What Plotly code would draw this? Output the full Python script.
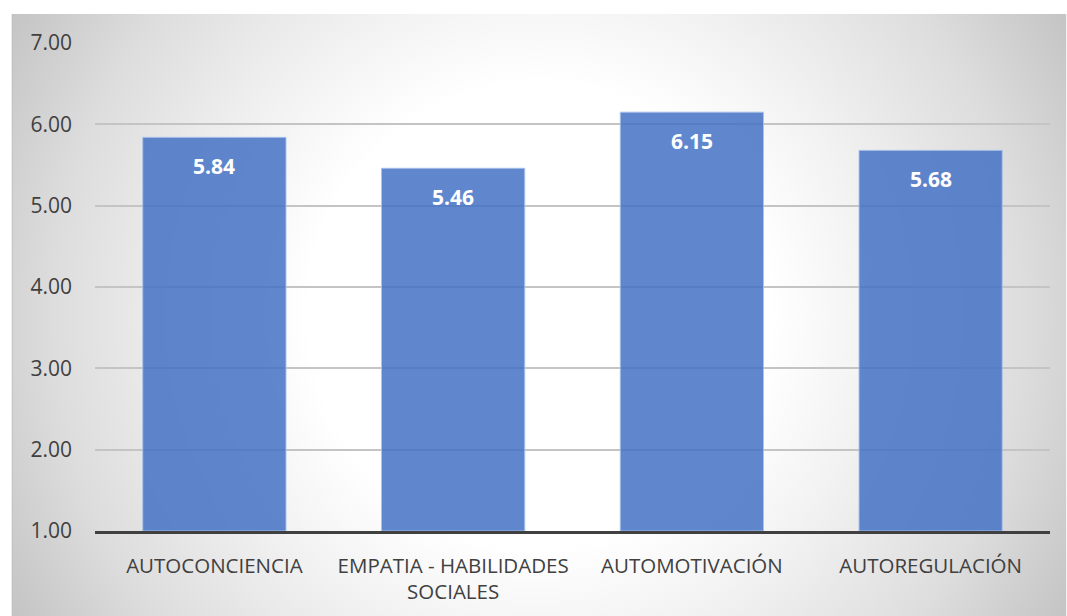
import base64
import plotly.graph_objects as go

# Data
categories = ["AUTOCONCIENCIA", "EMPATIA - HABILIDADES<br>SOCIALES", "AUTOMOTIVACIÓN", "AUTOREGULACIÓN"]
values = [5.84, 5.46, 6.15, 5.68]
tick_vals = [1, 2, 3, 4, 5, 6, 7]
tick_text = ["1.00", "2.00", "3.00", "4.00", "5.00", "6.00", "7.00"]

W, H = 1067, 616
L, R, T, B = 94.5, 16.5, 43, 85
pw, ph = W - L - R, H - T - B

# Radial gradient backdrop for the chart area (x 11..1067, y 14..616 in px)
bx0, by0, bx1, by1 = 11, 14, 1067, 616
bw, bh = bx1 - bx0, by1 - by0
svg = (
    f'<svg xmlns="http://www.w3.org/2000/svg" width="{bw}" height="{bh}" viewBox="0 0 {bw} {bh}" preserveAspectRatio="none">'
    '<defs><radialGradient id="g" gradientUnits="userSpaceOnUse" '
    f'cx="{bw/2}" cy="{bh/2}" r="{((bw/2)**2 + (bh/2)**2) ** 0.5:.1f}">'
    '<stop offset="0" stop-color="#ffffff"/>'
    '<stop offset="0.38" stop-color="#ffffff"/>'
    '<stop offset="0.55" stop-color="#f2f2f2"/>'
    '<stop offset="0.8" stop-color="#dddddd"/>'
    '<stop offset="1" stop-color="#c4c4c4"/>'
    '</radialGradient></defs>'
    f'<rect x="0" y="0" width="{bw}" height="{bh}" fill="url(#g)"/>'
    f'<line x1="0.5" y1="0" x2="0.5" y2="{bh}" stroke="#bdbdbd" stroke-width="1"/></svg>'
)
bg_src = "data:image/svg+xml;base64," + base64.b64encode(svg.encode()).decode()

fig = go.Figure()
fig.add_trace(go.Bar(
    x=categories,
    y=[v - 1 for v in values],
    base=1,
    width=0.6,
    marker=dict(color="rgba(68,114,196,0.85)", line=dict(color="rgba(170,195,235,0.9)", width=1)),
    hoverinfo="skip",
))

# Value labels inside the top of each bar
for c, v in zip(categories, values):
    fig.add_annotation(
        x=c, y=v, text=f"<b>{v:.2f}</b>", showarrow=False,
        yanchor="top", yshift=-13,
        font=dict(family="Open Sans", size=21, color="white"),
    )

fig.add_layout_image(
    source=bg_src, xref="paper", yref="paper",
    x=(bx0 - L) / pw, y=(H - B - by0) / ph,
    sizex=bw / pw, sizey=bh / ph,
    xanchor="left", yanchor="top", sizing="stretch", layer="below",
)

fig.update_layout(
    width=W, height=H,
    margin=dict(l=L, r=R, t=T, b=B, pad=0),
    paper_bgcolor="white",
    plot_bgcolor="rgba(0,0,0,0)",
    showlegend=False,
    font=dict(family="Open Sans", color="#404040", size=21),
    bargap=0.4,
    xaxis=dict(
        showline=True, linecolor="#404040", linewidth=3,
        showgrid=False, ticks="", tickfont=dict(size=20.5, color="#404040"),
        ticklabelstandoff=14,
    ),
    yaxis=dict(
        range=[1, 7], tickvals=tick_vals, ticktext=tick_text,
        showgrid=True, gridcolor="#c4c4c4", gridwidth=1.5,
        zeroline=False, showline=False, ticks="",
        tickfont=dict(size=21, color="#404040"),
        ticklabelstandoff=22,
    ),
)

fig.write_html("out.html")
